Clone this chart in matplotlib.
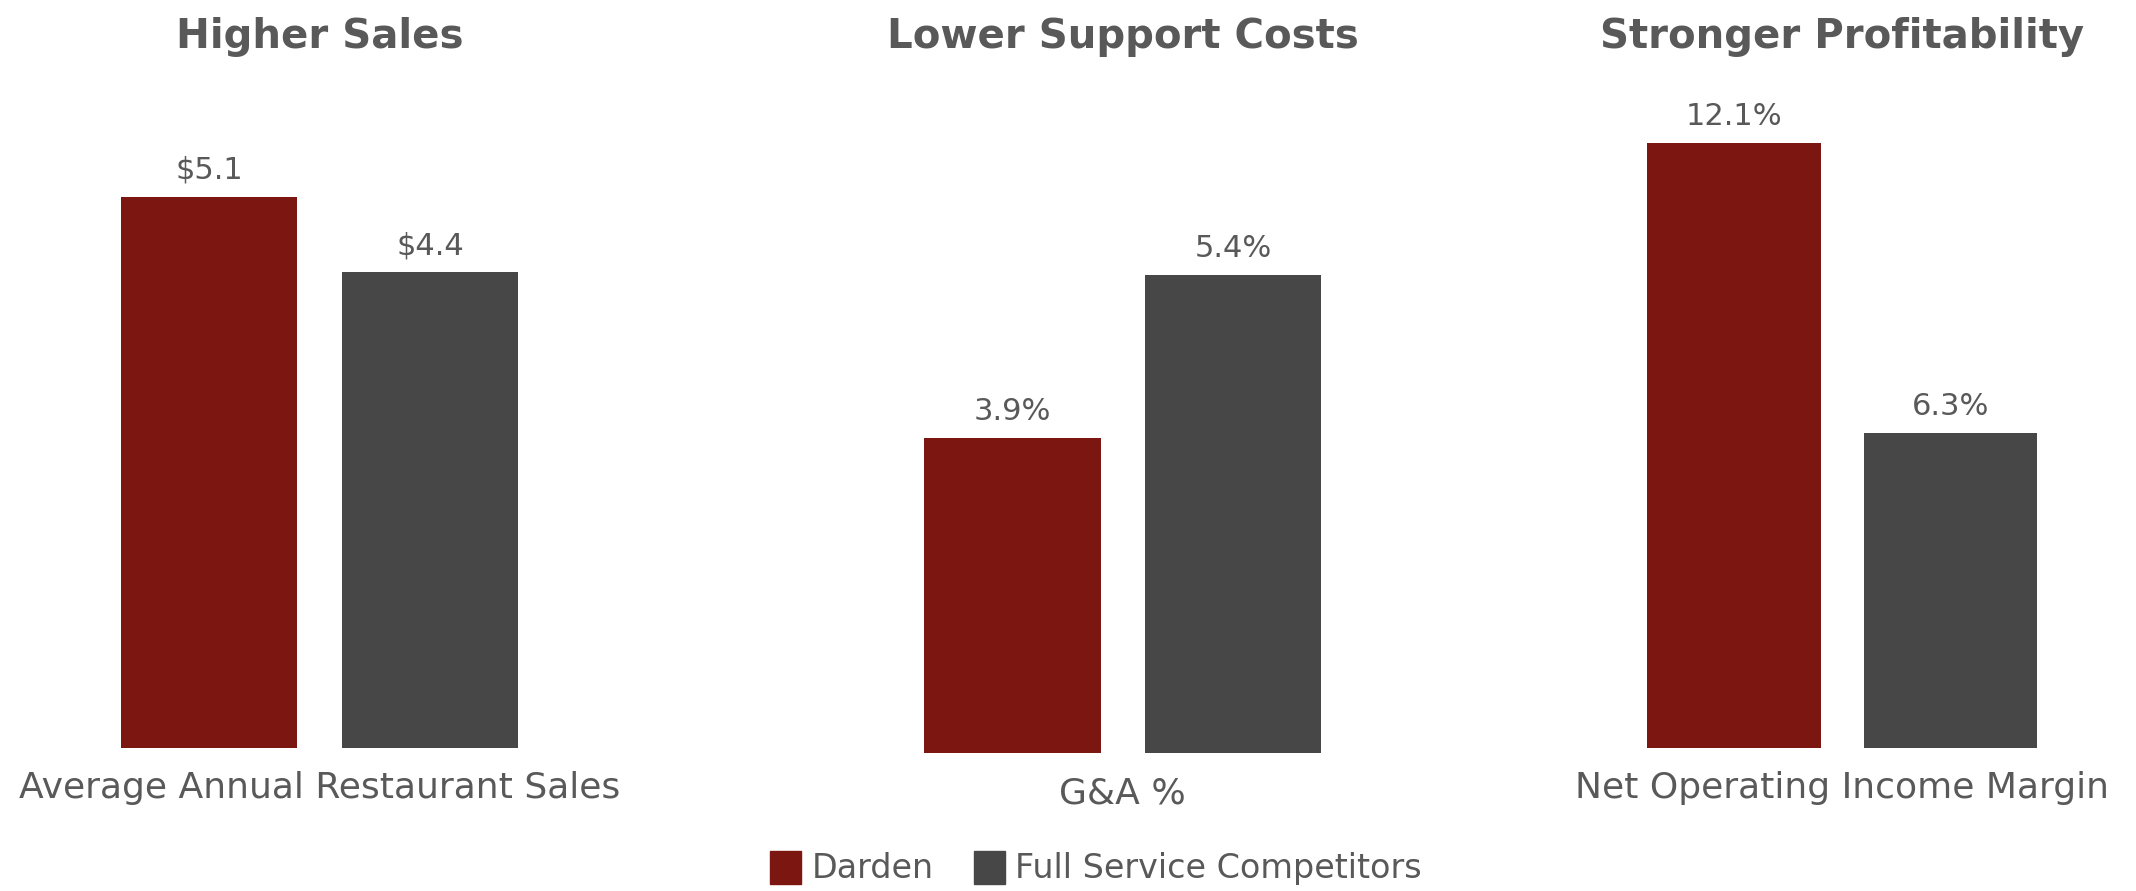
import matplotlib
matplotlib.use("Agg")
import matplotlib.pyplot as plt
from matplotlib.patches import Patch

# data
panel_titles = ["Higher Sales", "Lower Support Costs", "Stronger Profitability"]
categories = ["Average Annual Restaurant Sales", "G&A %", "Net Operating Income Margin"]
series_names = ["Darden", "Full Service Competitors"]
darden = [5.1, 3.9, 12.1]
competitors = [4.4, 5.4, 6.3]
label_fmt = ["${:.1f}", "{:.1f}%", "{:.1f}%"]

colors = ["#7B1610", "#474747"]
text_color = "#595959"
plt.rcParams['font.family'] = ['DejaVu Sans']

W, H = 2136, 891
fig = plt.figure(figsize=(W / 100, H / 100), dpi=100)

# axes boxes in pixels: left, bottom(from top), right, top(from top)
boxes = [(98.5, 748, 540.5, 110), (902.25, 753, 1343.25, 110), (1625.75, 748, 2058.75, 110)]
ylims = [(0, 5.9), (1.0, 6.92), (0, 12.76)]

for i, (l, b, r, t) in enumerate(boxes):
    ax = fig.add_axes([l / W, (H - b) / H, (r - l) / W, (b - t) / H])
    vals = [darden[i], competitors[i]]
    bars = ax.bar([0, 1], vals, width=0.8, color=colors)
    ax.set_xlim(-0.5, 1.5)
    ax.set_ylim(*ylims[i])
    for bar, v in zip(bars, vals):
        ax.annotate(label_fmt[i].format(v), (bar.get_x() + bar.get_width() / 2, v),
                    xytext=(0, 19), textcoords="offset points", ha="center", va="center",
                    fontsize=22, color=text_color)
    ax.annotate(categories[i], (0.5, 0), xycoords="axes fraction", xytext=(0, -29),
                textcoords="offset points", ha="center", va="center", fontsize=26, color=text_color)
    ax.annotate(panel_titles[i], (0.5, 1 - 37 / H), xycoords=("axes fraction", "figure fraction"),
                ha="center", va="center", fontsize=29, fontweight="bold", color=text_color)
    ax.axis("off")

handles = [Patch(color=c, label=n) for c, n in zip(colors, series_names)]
leg = fig.legend(handles=handles, loc="center", bbox_to_anchor=(0.513, 1 - 868 / H), ncol=2,
                 frameon=False, fontsize=24, handlelength=0.95, handleheight=1.15,
                 handletextpad=0.3, columnspacing=1.2)
for txt in leg.get_texts():
    txt.set_color(text_color)

fig.savefig("out.png", dpi=100, facecolor="white")
